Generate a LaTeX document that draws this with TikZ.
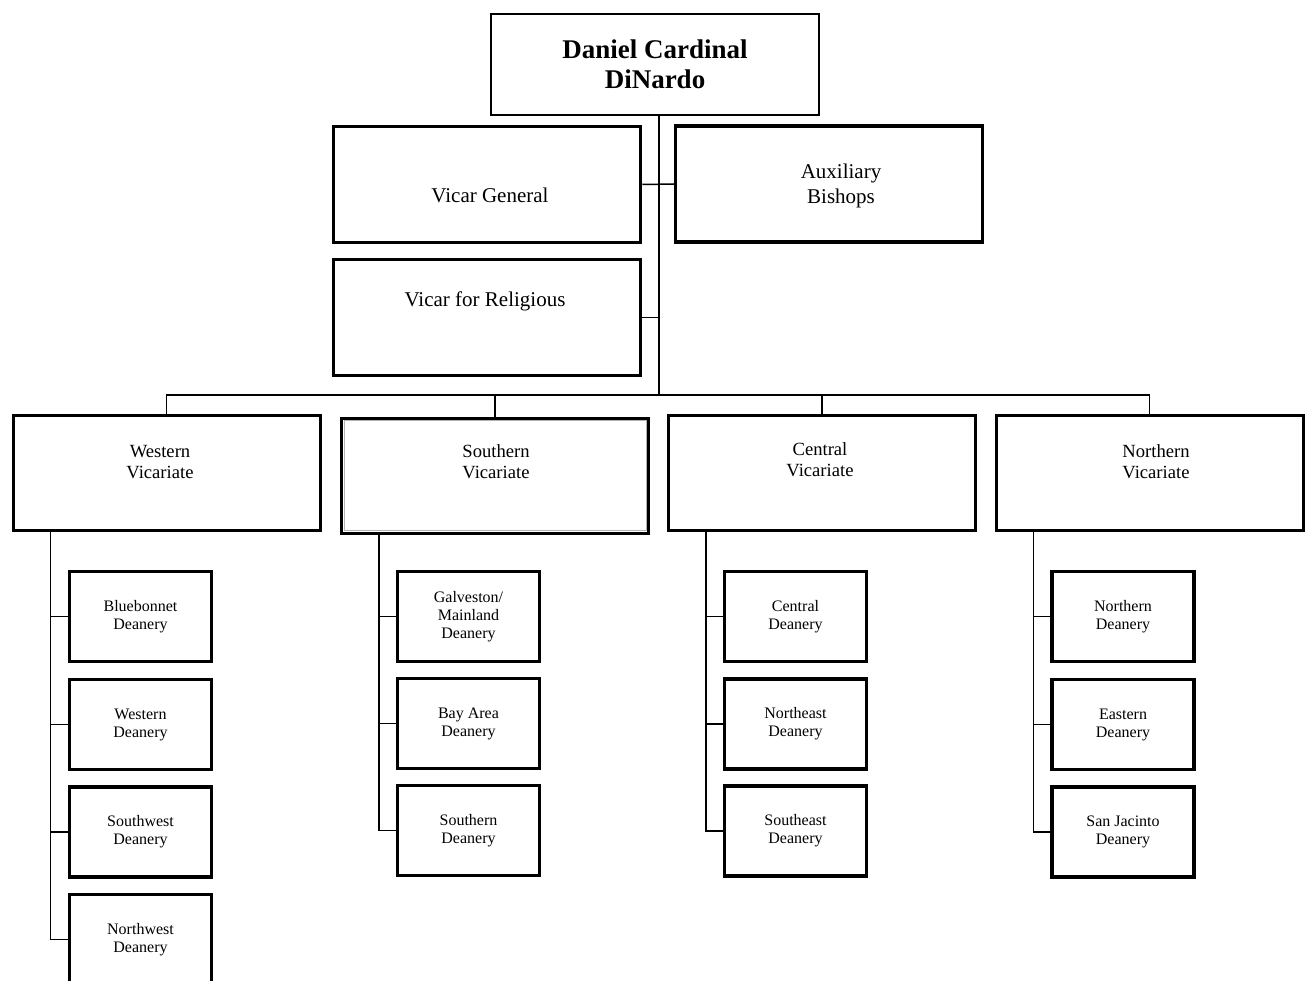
\documentclass[tikz,border=0pt]{standalone}
\usepackage{fontspec}
\setmainfont{Liberation Serif}
\tikzset{>=stealth}
\tikzset{
  chief/.style = {draw, line width=2.5pt, minimum width=328pt, minimum height=101pt, align=center, font=\fontsize{27}{30}\selectfont\bfseries},
  vicar/.style = {draw, line width=3.5pt, minimum width=307pt, minimum height=116pt},
  vtext/.style = {align=center, font=\fontsize{21}{25}\selectfont},
  region/.style = {draw, line width=3pt, minimum width=307pt, minimum height=115pt},
  rtext/.style = {align=center, font=\fontsize{18.6}{21}\selectfont},
  deanery/.style = {draw, line width=3.5pt, minimum width=142pt, minimum height=90pt, align=center, font=\fontsize{16}{18}\selectfont},
  link/.style = {line width=1.5pt}
}

\begin{document}
\begin{tikzpicture}[x=1pt, y=-1pt]
    \useasboundingbox (0,0) rectangle (1306,981);
    \clip (0,0) rectangle (1306,981);
    % top of the chart
    \node [chief] (card) at (655,64.5) {Daniel Cardinal\\DiNardo};
    \node [vicar] (vg) at (487,184.5) {};
    \node [vtext] (vgt) at (490,195) {Vicar General};
    \node [vicar] (ab) at (829,184) {};
    \node [vtext] (abt) at (841,185.5) {Auxiliary\\Bishops};
    \node [vicar] (vr) at (487,317.5) {};
    \node [vtext] (vrt) at (485,301) {Vicar for Religious};
    \coordinate (bar) at (659,395);
    \draw [link] (card.south -| bar) -- (bar);
    \draw [link] (vg.east) -- (ab.west);
    \draw [link] (vr.east) -- (vr.east -| bar);
    % vicariates
    \node [region] (wv) at (166.5,473) {};
    \node [rtext] (wvt) at (160,462) {Western\\Vicariate};
    \node [region] (sv) at (495,475.5) {};
    \draw [gray!60, line width=1pt] ([shift={(4pt,-4pt)}]sv.north west) rectangle ([shift={(-4pt,4pt)}]sv.south east);
    \node [rtext] (svt) at (496,462) {Southern\\Vicariate};
    \node [region] (cv) at (822,473) {};
    \node [rtext] (cvt) at (820,460) {Central\\Vicariate};
    \node [region] (nv) at (1149.5,473) {};
    \node [rtext] (nvt) at (1156,462) {Northern\\Vicariate};
    \draw [link] (wv.north) |- (bar) -| (nv.north);
    \draw [link] (sv.north) -- (sv.north |- bar);
    \draw [link] (cv.north) -- (cv.north |- bar);
    % deaneries
    \node [deanery] (wd1) at (140.5,616.5) {Bluebonnet\\Deanery};
    \node [deanery] (wd2) at (140.5,724.5) {Western\\Deanery};
    \node [deanery] (wd3) at (140.5,832) {Southwest\\Deanery};
    \node [deanery] (wd4) at (140.5,939.5) {Northwest\\Deanery};
    \node [deanery] (sd1) at (468.5,616.5) {Galveston/\\Mainland\\Deanery};
    \node [deanery] (sd2) at (468.5,723.5) {Bay Area\\Deanery};
    \node [deanery] (sd3) at (468.5,830.5) {Southern\\Deanery};
    \node [deanery] (cd1) at (795.5,616.5) {Central\\Deanery};
    \node [deanery] (cd2) at (795.5,724) {Northeast\\Deanery};
    \node [deanery] (cd3) at (795.5,831) {Southeast\\Deanery};
    \node [deanery] (nd1) at (1123,616.5) {Northern\\Deanery};
    \node [deanery] (nd2) at (1123,724.5) {Eastern\\Deanery};
    \node [deanery] (nd3) at (1123,832) {San Jacinto\\Deanery};
    \coordinate (ws) at ([xshift=39pt]wv.south west);
    \coordinate (ss) at ([xshift=39pt]sv.south west);
    \coordinate (cs) at ([xshift=39pt]cv.south west);
    \coordinate (ns) at ([xshift=39pt]nv.south west);
    \draw [link] (ws) |- (wd4.west);
    \draw [link] (ss) |- (sd3.west);
    \draw [link] (cs) |- (cd3.west);
    \draw [link] (ns) |- (nd3.west);
    \foreach \k in {1,2,3}
        \draw [link] (ws |- wd\k.west) -- (wd\k.west);
    \foreach \c in {s,c,n}
        \foreach \k in {1,2}
            \draw [link] (\c s |- \c d\k.west) -- (\c d\k.west);
\end{tikzpicture}
\end{document}
